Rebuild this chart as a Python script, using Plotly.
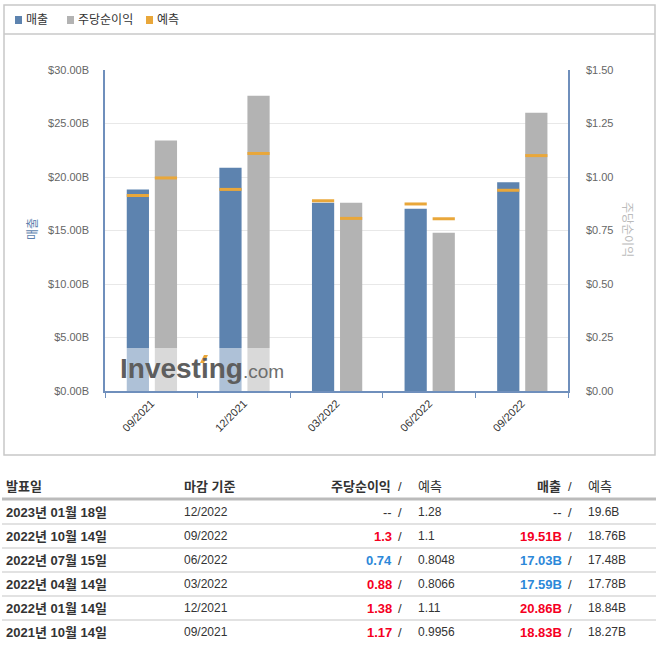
import plotly.graph_objects as go

W, H = 665, 648

# ---------------- data ----------------
categories = ["09/2021", "12/2021", "03/2022", "06/2022", "09/2022"]
revenue = [18.83, 20.86, 17.59, 17.03, 19.51]          # $B
revenue_fc = [18.27, 18.84, 17.78, 17.48, 18.76]       # $B
eps = [1.17, 1.38, 0.88, 0.74, 1.30]                   # $
eps_fc = [0.9956, 1.11, 0.8066, 0.8048, 1.10]          # $

tbl_dates = ["2023년 01월 18일", "2022년 10월 14일", "2022년 07월 15일",
             "2022년 04월 14일", "2022년 01월 14일", "2021년 10월 14일"]
tbl_periods = ["12/2022", "09/2022", "06/2022", "03/2022", "12/2021", "09/2021"]
tbl_eps = [None, 1.3, 0.74, 0.88, 1.38, 1.17]
tbl_eps_fc = ["1.28", "1.1", "0.8048", "0.8066", "1.11", "0.9956"]
tbl_rev = [None, 19.51, 17.03, 17.59, 20.86, 18.83]
tbl_rev_fc = [19.6, 18.76, 17.48, 17.78, 18.84, 18.27]

BLUE = "#5d83af"
GRAY = "#b3b3b3"
ORANGE = "#e9a73a"
AXIS = "#6f8fbc"
RED = "#f5001f"
LBLUE = "#2c88d9"
TXT = "#333333"
FONT = "Liberation Sans, Arial, Noto Sans CJK KR, sans-serif"


def px(x):
    return x / W


def py(y):
    return 1 - y / H


BW = 0.24
OFF_REV = -0.265
OFF_EPS = 0.038
thick_rev = 0.28
thick_eps = thick_rev / 20.0
NOLINE = dict(width=0)

fig = go.Figure()
fig.add_trace(go.Bar(x=categories, y=revenue, name="매출",
                     marker=dict(color=BLUE, line=NOLINE),
                     width=BW, offset=OFF_REV, yaxis="y", showlegend=False))
fig.add_trace(go.Bar(x=categories, y=eps, name="주당순이익",
                     marker=dict(color=GRAY, line=NOLINE),
                     width=BW, offset=OFF_EPS, yaxis="y2", showlegend=False))
fig.add_trace(go.Bar(x=categories, y=[thick_rev] * len(revenue_fc),
                     base=[v - thick_rev / 2 for v in revenue_fc], name="예측",
                     marker=dict(color=ORANGE, line=NOLINE),
                     width=BW, offset=OFF_REV, yaxis="y", showlegend=False))
fig.add_trace(go.Bar(x=categories, y=[thick_eps] * len(eps_fc),
                     base=[v - thick_eps / 2 for v in eps_fc], name="예측",
                     marker=dict(color=ORANGE, line=NOLINE),
                     width=BW, offset=OFF_EPS, yaxis="y2", showlegend=False))

fig.update_layout(
    width=W, height=H,
    margin=dict(l=0, r=0, t=0, b=0, autoexpand=False),
    paper_bgcolor="white", plot_bgcolor="white",
    barmode="overlay",
    showlegend=False,
    font=dict(family=FONT, size=11, color=TXT),
    xaxis=dict(domain=[px(105), px(568)], type="category", range=[-0.5, 4.5],
               automargin=False,
               showline=True, linecolor=AXIS, linewidth=1.5,
               ticks="outside", tickson="boundaries", ticklen=5, tickcolor=AXIS,
               tickangle=-45, showgrid=False,
               tickfont=dict(size=11, color="#333")),
    yaxis=dict(domain=[py(391), py(70)], range=[0, 30], dtick=5,
               automargin=False,
               tickprefix="$", tickformat=".2f", ticksuffix="B",
               showline=True, linecolor=AXIS, linewidth=1.5,
               gridcolor="#e8e8e8", zeroline=False, ticks="",
               ticklabelstandoff=12,
               tickfont=dict(size=11, color="#666")),
    yaxis2=dict(overlaying="y", side="right", anchor="x", range=[0, 1.5], dtick=0.25,
                automargin=False,
                tickprefix="$", tickformat=".2f",
                showline=True, linecolor=AXIS, linewidth=1.5,
                showgrid=False, zeroline=False, ticks="",
                ticklabelstandoff=14,
                tickfont=dict(size=11, color="#666")),
)

shapes = []
annotations = []

# outer chart box and legend separator
shapes.append(dict(type="rect", xref="paper", yref="paper",
                   x0=px(4), x1=px(655), y0=py(455), y1=py(5),
                   line=dict(color="#c8c8c8", width=1.5), layer="below"))
shapes.append(dict(type="line", xref="paper", yref="paper",
                   x0=px(4), x1=px(655), y0=py(34), y1=py(34),
                   line=dict(color="#c8c8c8", width=1.5)))

# legend
legend_items = [("매출", BLUE, 15), ("주당순이익", GRAY, 67), ("예측", ORANGE, 146)]
for label, col, x0 in legend_items:
    shapes.append(dict(type="rect", xref="paper", yref="paper",
                       x0=px(x0), x1=px(x0 + 7), y0=py(24), y1=py(16),
                       fillcolor=col, line=dict(width=0)))
    annotations.append(dict(text=label, xref="paper", yref="paper",
                            x=px(x0 + 9), y=py(20), xanchor="left", yanchor="middle",
                            showarrow=False, font=dict(size=12, color=TXT)))

# axis titles
annotations.append(dict(text="매출", xref="paper", yref="paper", x=px(33), y=py(229),
                        xanchor="center", yanchor="middle",
                        textangle=-90, showarrow=False,
                        font=dict(size=12, color="#5b7fae")))
annotations.append(dict(text="주당순이익", xref="paper", yref="paper", x=px(627), y=py(229),
                        xanchor="center", yanchor="middle",
                        textangle=90, showarrow=False,
                        font=dict(size=12, color="#bbbbbb")))

# watermark
shapes.append(dict(type="rect", xref="paper", yref="paper",
                   x0=px(118), x1=px(284), y0=py(391), y1=py(348),
                   fillcolor="rgba(255,255,255,0.5)", line=dict(width=0), layer="above"))
annotations.append(dict(text="<b>Investing</b>", xref="paper", yref="paper",
                        x=px(118), y=py(368), xanchor="left", yanchor="middle",
                        showarrow=False,
                        font=dict(size=28, color="#5e5e5e", family="Liberation Sans, Arial")))
annotations.append(dict(text=".com", xref="paper", yref="paper",
                        x=px(241), y=py(371), xanchor="left", yanchor="middle",
                        showarrow=False,
                        font=dict(size=19, color="#6e6e6e", family="Liberation Sans, Arial")))
accent = "M %f,%f L %f,%f L %f,%f L %f,%f Z" % (
    px(200), py(363), px(204), py(363), px(208), py(355), px(204), py(355))
shapes.append(dict(type="path", xref="paper", yref="paper", path=accent,
                   fillcolor=ORANGE, line=dict(width=0), layer="above"))

# table header
hdr_y = 486
hdr = [
    ("<b>발표일</b>", 4, "left"),
    ("<b>마감 기준</b>", 182, "left"),
    ("<b>주당순이익</b>", 393, "right"),
    ("/", 400, "center"),
    ("예측", 416, "left"),
    ("<b>매출</b>", 563, "right"),
    ("/", 570, "center"),
    ("예측", 586, "left"),
]
for txt, x, anc in hdr:
    annotations.append(dict(text=txt, xref="paper", yref="paper", x=px(x), y=py(hdr_y),
                            xanchor=anc, yanchor="middle", showarrow=False,
                            font=dict(size=13, color=TXT)))

shapes.append(dict(type="line", xref="paper", yref="paper",
                   x0=px(2), x1=px(656), y0=py(499), y1=py(499),
                   line=dict(color="#bbbbbb", width=3)))

row_y0 = 512
row_h = 24
for i in range(len(tbl_dates)):
    y = row_y0 + i * row_h
    if i > 0:
        ly = y - 12
        shapes.append(dict(type="line", xref="paper", yref="paper",
                           x0=px(2), x1=px(656), y0=py(ly), y1=py(ly),
                           line=dict(color="#d9d9d9", width=1.5)))
    fc_eps_val = float(tbl_eps_fc[i])
    if tbl_eps[i] is None:
        eps_txt, eps_col = "--", TXT
    else:
        eps_txt = "<b>%s</b>" % tbl_eps[i]
        eps_col = RED if tbl_eps[i] >= fc_eps_val else LBLUE
    if tbl_rev[i] is None:
        rev_txt, rev_col = "--", TXT
    else:
        rev_txt = "<b>%.2fB</b>" % tbl_rev[i]
        rev_col = RED if tbl_rev[i] >= tbl_rev_fc[i] else LBLUE
    fc_rev_txt = ("%gB" % tbl_rev_fc[i])
    row = [
        ("<b>%s</b>" % tbl_dates[i], 4, "left", TXT, 13),
        (tbl_periods[i], 182, "left", TXT, 12),
        (eps_txt, 394, "right", eps_col, 13),
        ("/", 400, "center", TXT, 13),
        (tbl_eps_fc[i], 416, "left", TXT, 12),
        (rev_txt, 564, "right", rev_col, 13),
        ("/", 570, "center", TXT, 13),
        (fc_rev_txt, 586, "left", TXT, 12),
    ]
    for txt, x, anc, col, sz in row:
        annotations.append(dict(text=txt, xref="paper", yref="paper", x=px(x), y=py(y),
                                xanchor=anc, yanchor="middle", showarrow=False,
                                font=dict(size=sz, color=col)))

fig.update_layout(shapes=shapes, annotations=annotations)
fig.write_html("out.html", config={"displayModeBar": False},
               post_script="document.body.style.margin='0';"
                           "document.body.style.overflow='hidden';")
